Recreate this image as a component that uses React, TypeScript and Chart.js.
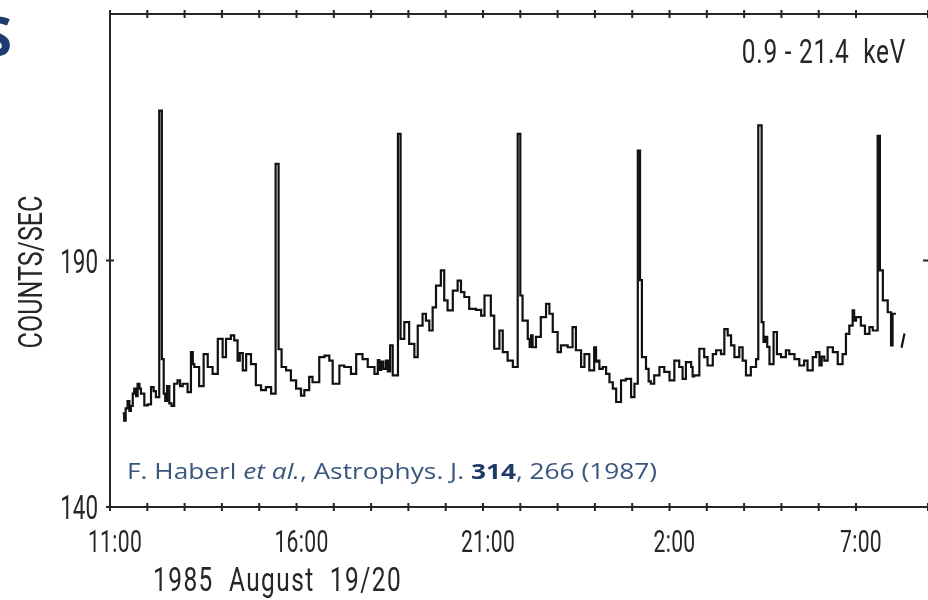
import React, { useEffect, useRef } from 'react';
import { Chart, registerables } from 'chart.js';

Chart.register(...registerables);

// Start of each time bin, in hours counted from 0:00 on 1985 August 19
const binHours = [
  11.34, 11.38, 11.42, 11.47, 11.52, 11.56, 11.61, 11.65, 11.70, 11.74, 11.79, 11.83, 11.92, 12.01, 12.10, 12.17, 12.23,
  12.32, 12.39, 12.44, 12.48, 12.53, 12.59, 12.65, 12.72, 12.81, 12.88, 12.95, 13.08, 13.17, 13.22, 13.26, 13.39, 13.51,
  13.62, 13.75, 13.89, 14.02, 14.11, 14.24, 14.33, 14.42, 14.48, 14.56, 14.65, 14.78, 14.91, 15.05, 15.18, 15.32,
  15.44, 15.52, 15.60, 15.72, 15.85, 15.99, 16.12, 16.21, 16.34, 16.43, 16.61, 16.75, 16.88, 16.97, 17.15, 17.28,
  17.46, 17.60, 17.77, 17.91, 18.09,
  18.18, 18.22, 18.27, 18.33, 18.40, 18.45, 18.51, 18.58, 18.72, 18.79, 18.89, 19.02, 19.16, 19.25, 19.38, 19.47,
  19.56, 19.65, 19.74, 19.87, 19.96, 20.05, 20.19, 20.32, 20.41, 20.50, 20.63, 20.81, 20.95, 21.04, 21.21, 21.30,
  21.44, 21.53, 21.66, 21.80, 21.93, 22.00, 22.06, 22.20, 22.25, 22.29, 22.33, 22.42, 22.55, 22.69, 22.78, 22.87,
  23.00, 23.09, 23.27, 23.40, 23.49, 23.63, 23.72, 23.85, 23.98, 24.03, 24.07, 24.12, 24.21, 24.30, 24.39, 24.48,
  24.57, 24.70, 24.83, 24.97, 25.06, 25.15, 25.21, 25.26,
  25.37, 25.44, 25.50, 25.59, 25.73, 25.86, 26.00, 26.13, 26.26, 26.35, 26.44, 26.58, 26.62, 26.66, 26.80, 26.93,
  27.02, 27.16, 27.25, 27.38, 27.47, 27.56, 27.65, 27.74, 27.87, 27.96, 28.05, 28.18, 28.32, 28.38, 28.47, 28.52,
  28.56, 28.62, 28.68, 28.79, 28.88, 28.99, 29.12, 29.21, 29.35, 29.48, 29.61, 29.70, 29.84, 29.93, 30.02, 30.08,
  30.15, 30.24, 30.38, 30.51, 30.64, 30.73, 30.82, 30.91, 30.95, 31.00, 31.13, 31.24, 31.36, 31.45, 31.58, 31.64,
  31.72, 31.85, 31.94, 31.98, 32.07,
];

// Count rate in each bin (counts/sec)
const countRate = [
  159, 157.5, 160, 161.5, 159.5, 160.5, 163, 164, 162.5, 165, 164, 163, 160.6, 160.8, 164.3, 163.5, 162.3,
  220.4, 170, 163, 161.5, 164.5, 161, 160.5, 165, 165.7, 164.5, 165, 163.3, 171.4, 169, 168.4, 164.5, 171,
  168.4, 167, 174.1, 170.4, 174.1, 174.8, 173.8, 169.7, 171.2, 167.7, 171, 169, 164.7, 163.7, 164.3, 163,
  209.6, 172, 168.4, 167.7, 165.7, 164, 162.6, 163.7, 166.4, 165.3, 170.4, 170.7, 169.7, 165, 168.7, 168.4,
  167, 171, 170, 168.4, 167,
  169.8, 167.8, 169.5, 168, 169.7, 167.5, 172.8, 166.7, 215.7, 174.1, 177.5, 173.1, 170.4, 176.8, 179.2, 177.8,
  175.8, 180.5, 184.9, 188, 181.9, 179.9, 183.9, 185.9, 183.6, 182.6, 180.2, 180, 178.8, 182.9, 178.8, 172.1,
  175.8, 171.4, 169.7, 168.4, 215.7, 182.9, 177.8, 174.1, 172.5, 174.8, 172.4, 174.5, 178.5, 181.2, 179.2, 175.5,
  171.4, 172.8, 172.4, 176.5, 171.8, 168.4, 171, 167.7, 172.4, 169.5, 169.7, 168, 168.4, 167, 165.3, 164,
  161.3, 165.7, 166, 162.3, 165, 212.3, 186, 170.4,
  168, 165.5, 165, 166.7, 168.4, 167.4, 165.7, 169.7, 168.4, 166, 169.4, 168.4, 166.5, 166.7, 172.1, 170.4,
  168.7, 171, 171.8, 171, 176.1, 174.8, 172.8, 170.4, 172.4, 169.7, 166.7, 168.4, 170, 217.4, 177.5, 173.5,
  174.5, 172.5, 169, 175.5, 171, 170.4, 171.8, 171, 170, 168.7, 169.7, 167.7, 170.4, 171.4, 168.7, 170.5,
  169.7, 172.4, 171.4, 169, 171, 175.1, 176.8, 179.9, 177.8, 178.5, 176.8, 175.1, 176.5, 175.8, 215.3, 188,
  181.9, 179.5, 172.8, 179.2, 179.2,
];

// Short isolated final segment
const tailHours = [32.22, 32.3];
const tailRate = [172.3, 175.2];

// Axis ranges and labelled ticks
const hourMin = 11;
const hourMax = 32.93;
const rateMin = 140;
const rateMax = 240;
const labelledHours = [11, 16, 21, 26, 31];
const hourLabels = ['11:00', '16:00', '21:00', '2:00', '7:00'];
const labelledRates = [140, 190];
const rateLabels = ['140', '190'];

const INK = '#262626';
const CITE = '#3a567e';
const CITE_BOLD = '#1f3a66';

function condensedText(
  ctx: CanvasRenderingContext2D,
  text: string,
  x: number,
  y: number,
  align: CanvasTextAlign,
  size: number,
  squeeze: number,
  spacing = 0,
) {
  ctx.save();
  ctx.translate(x, y);
  ctx.scale(squeeze, 1);
  ctx.font = `${size}px Roboto, "DejaVu Sans", sans-serif`;
  (ctx as any).letterSpacing = `${spacing}px`;
  ctx.textAlign = align;
  ctx.textBaseline = 'alphabetic';
  ctx.fillStyle = INK;
  ctx.fillText(text, 0, 0);
  ctx.restore();
}

const axesPlugin = {
  id: 'lightCurveAxes',
  afterDatasetsDraw(chart: any) {
    const { ctx, chartArea: a, scales } = chart;
    const xs = scales.x;
    const ys = scales.y;
    const W = chart.width;
    ctx.save();

    // frame
    ctx.strokeStyle = INK;
    ctx.lineWidth = 2;
    ctx.beginPath();
    ctx.moveTo(a.left, a.top - 1);
    ctx.lineTo(a.left, a.bottom + 1);
    ctx.moveTo(a.left, a.top);
    ctx.lineTo(W, a.top);
    ctx.moveTo(a.left, a.bottom);
    ctx.lineTo(W, a.bottom);
    ctx.stroke();

    // hour ticks on bottom and top axes, rate ticks on left and right axes
    ctx.beginPath();
    xs.ticks.forEach((t: any) => {
      const px = xs.getPixelForValue(t.value);
      ctx.moveTo(px, a.bottom - 4);
      ctx.lineTo(px, a.bottom + 4);
      ctx.moveTo(px, a.top - 4);
      ctx.lineTo(px, a.top + 4);
    });
    labelledRates.forEach((v) => {
      const py = ys.getPixelForValue(v);
      ctx.moveTo(a.left - 4, py);
      ctx.lineTo(a.left + 4, py);
      ctx.moveTo(a.right - 5, py);
      ctx.lineTo(a.right, py);
    });
    ctx.stroke();

    // tick labels
    labelledHours.forEach((h, i) => {
      const px = xs.getPixelForValue(h);
      condensedText(ctx, hourLabels[i], px + 5, a.bottom + 45, 'center', 32, 0.66, 0.5);
    });
    labelledRates.forEach((v, i) => {
      const py = ys.getPixelForValue(v);
      condensedText(ctx, rateLabels[i], a.left - 12, py + 12, 'right', 33, 0.68);
    });

    // axis titles and energy band
    condensedText(ctx, '1985  August  19/20', 153, 591, 'left', 33, 0.74, 2);
    condensedText(ctx, '0.9 - 21.4  keV', 906, 63, 'right', 33, 0.74, 1);
    ctx.save();
    ctx.translate(42, 272);
    ctx.rotate(-Math.PI / 2);
    condensedText(ctx, 'COUNTS/SEC', 0, 0, 'center', 33, 0.76);
    ctx.restore();

    // reference line, stretched to its printed width
    const parts = [
      { t: 'F. Haberl ', f: '21px "Open Sans"', c: CITE },
      { t: 'et al.', f: 'italic 21px "Open Sans"', c: CITE },
      { t: ', Astrophys. J. ', f: '21px "Open Sans"', c: CITE },
      { t: '314', f: 'bold 21px "Open Sans"', c: CITE_BOLD },
      { t: ', 266 (1987)', f: '21px "Open Sans"', c: CITE },
    ];
    let total = 0;
    parts.forEach((p) => {
      ctx.font = p.f;
      total += ctx.measureText(p.t).width;
    });
    ctx.save();
    ctx.translate(127, 479);
    ctx.scale(530 / total, 1);
    let cx = 0;
    ctx.textAlign = 'left';
    ctx.textBaseline = 'alphabetic';
    parts.forEach((p) => {
      ctx.font = p.f;
      ctx.fillStyle = p.c;
      ctx.fillText(p.t, cx, 0);
      cx += ctx.measureText(p.t).width;
    });
    ctx.restore();

    // edge of the slide heading
    ctx.font = 'bold 54px "Open Sans"';
    ctx.fillStyle = '#1d3b6e';
    ctx.textAlign = 'right';
    ctx.fillText('S', 12, 56);

    ctx.restore();
  },
};

export default function App() {
  const canvasRef = useRef<HTMLCanvasElement | null>(null);

  useEffect(() => {
    const canvas = canvasRef.current;
    if (!canvas) return;
    const chart = new Chart(canvas, {
      type: 'line',
      data: {
        datasets: [
          {
            data: binHours.map((h, i) => ({ x: h, y: countRate[i] })),
            stepped: true,
            borderColor: '#111111',
            borderWidth: 2.2,
            pointRadius: 0,
            fill: false,
            borderJoinStyle: 'miter',
          },
          {
            data: tailHours.map((h, i) => ({ x: h, y: tailRate[i] })),
            borderColor: '#111111',
            borderWidth: 2.2,
            pointRadius: 0,
            fill: false,
          },
        ],
      },
      options: {
        responsive: false,
        animation: false,
        events: [],
        layout: { padding: 0 },
        plugins: { legend: { display: false }, tooltip: { enabled: false } },
        scales: {
          x: {
            type: 'linear',
            position: 'bottom',
            min: hourMin,
            max: hourMax,
            ticks: { stepSize: 1, display: false },
            grid: { display: false },
            border: { display: false },
            afterFit: (s: any) => {
              s.height = 93;
            },
          },
          xTop: {
            type: 'linear',
            position: 'top',
            min: hourMin,
            max: hourMax,
            ticks: { stepSize: 1, display: false },
            grid: { display: false },
            border: { display: false },
            afterFit: (s: any) => {
              s.height = 14;
            },
          },
          y: {
            type: 'linear',
            min: rateMin,
            max: rateMax,
            ticks: { stepSize: 50, display: false },
            grid: { display: false },
            border: { display: false },
            afterFit: (s: any) => {
              s.width = 110;
            },
          },
        },
      },
      plugins: [axesPlugin],
    } as any);
    return () => chart.destroy();
  }, []);

  return (
    <div style={{ position: 'absolute', left: 0, top: 0, width: 928, height: 600, background: '#fff' }}>
      <canvas ref={canvasRef} width={928} height={600} style={{ display: 'block' }} />
    </div>
  );
}
